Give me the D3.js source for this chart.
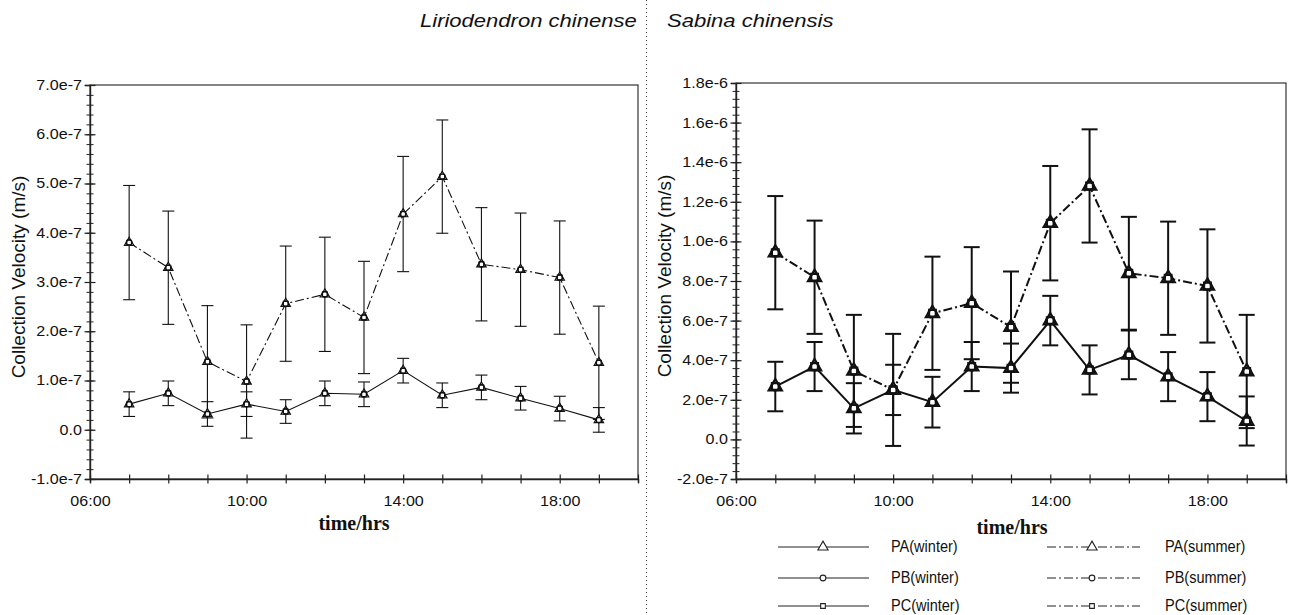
<!DOCTYPE html>
<html><head><meta charset="utf-8">
<script src="https://cdn.jsdelivr.net/npm/d3@7"></script>
<style>body{margin:0;background:#fff}svg{display:block}</style>
</head><body>
<svg id="c" width="1291" height="615"></svg>
<script>
// ---------- data ----------
const hours = [7, 8, 9, 10, 11, 12, 13, 14, 15, 16, 17, 18, 19];

const liriWinterMean = [0.52e-7, 0.74e-7, 0.32e-7, 0.52e-7, 0.37e-7, 0.74e-7, 0.72e-7, 1.20e-7, 0.70e-7, 0.86e-7, 0.64e-7, 0.43e-7, 0.20e-7];
const liriWinterErr  = [0.25e-7, 0.25e-7, 0.25e-7, 0.25e-7, 0.24e-7, 0.25e-7, 0.25e-7, 0.25e-7, 0.25e-7, 0.25e-7, 0.24e-7, 0.25e-7, 0.25e-7];
const liriSummerMean = [3.80e-7, 3.29e-7, 1.38e-7, 0.98e-7, 2.56e-7, 2.75e-7, 2.28e-7, 4.38e-7, 5.14e-7, 3.36e-7, 3.25e-7, 3.09e-7, 1.36e-7];
const liriSummerErr  = [1.16e-7, 1.15e-7, 1.14e-7, 1.15e-7, 1.17e-7, 1.16e-7, 1.14e-7, 1.17e-7, 1.15e-7, 1.15e-7, 1.15e-7, 1.15e-7, 1.15e-7];

const sabinaWinterMean = [2.67e-7, 3.68e-7, 1.57e-7, 2.50e-7, 1.88e-7, 3.68e-7, 3.60e-7, 6.00e-7, 3.51e-7, 4.27e-7, 3.17e-7, 2.16e-7, 0.93e-7];
const sabinaWinterErr  = [1.25e-7, 1.24e-7, 1.27e-7, 1.27e-7, 1.28e-7, 1.24e-7, 1.24e-7, 1.25e-7, 1.24e-7, 1.23e-7, 1.24e-7, 1.24e-7, 1.24e-7];
const sabinaSummerMean = [9.43e-7, 8.19e-7, 3.46e-7, 2.50e-7, 6.37e-7, 6.88e-7, 5.67e-7, 10.92e-7, 12.80e-7, 8.39e-7, 8.14e-7, 7.75e-7, 3.43e-7];
const sabinaSummerErr  = [2.86e-7, 2.86e-7, 2.83e-7, 2.83e-7, 2.86e-7, 2.83e-7, 2.81e-7, 2.89e-7, 2.86e-7, 2.85e-7, 2.86e-7, 2.86e-7, 2.86e-7];

const seriesNames = ["PA", "PB", "PC"];
const seasonNames = ["winter", "summer"];
const panelTitles = ["Liriodendron chinense", "Sabina chinensis"];
const yAxisTitle = "Collection Velocity (m/s)";
const xAxisTitle = "time/hrs";

const xTickHours = [6, 7, 8, 9, 10, 11, 12, 13, 14, 15, 16, 17, 18, 19, 20];
const xLabelHours = [6, 10, 14, 18];
const xTickLabels = ["06:00", "10:00", "14:00", "18:00"];

const liriYTicks = [-1e-7, 0, 1e-7, 2e-7, 3e-7, 4e-7, 5e-7, 6e-7, 7e-7];
const liriYTickLabels = ["-1.0e-7", "0.0", "1.0e-7", "2.0e-7", "3.0e-7", "4.0e-7", "5.0e-7", "6.0e-7", "7.0e-7"];
const sabinaYTicks = [-2e-7, 0, 2e-7, 4e-7, 6e-7, 8e-7, 1.0e-6, 1.2e-6, 1.4e-6, 1.6e-6, 1.8e-6];
const sabinaYTickLabels = ["-2.0e-7", "0.0", "2.0e-7", "4.0e-7", "6.0e-7", "8.0e-7", "1.0e-6", "1.2e-6", "1.4e-6", "1.6e-6", "1.8e-6"];

const legendLabels = [["PA(winter)", "PB(winter)", "PC(winter)"], ["PA(summer)", "PB(summer)", "PC(summer)"]];

// ---------- drawing ----------
const svg = d3.select("#c");
const SANS = "'Liberation Sans', Arial, sans-serif";
const SERIF = "'Liberation Serif', 'Times New Roman', serif";
const DASHDOT = "9,3,2,3";
const symbolTypes = [d3.symbolTriangle, d3.symbolCircle, d3.symbolSquare];

function addText(parent, x, y, str, o) {
  const g = parent.append("g").attr("transform", `translate(${x},${y})${o.rot ? " rotate(" + o.rot + ")" : ""} scale(${o.sx || 1},1)`);
  g.append("text").text(str)
    .attr("font-family", o.family || SANS)
    .attr("font-size", o.size)
    .attr("font-style", o.style || "normal")
    .attr("font-weight", o.weight || "normal")
    .attr("text-anchor", o.anchor || "start")
    .attr("fill", "#111");
  return g;
}

const panels = [
  { x0: 90, x1: 638, y0: 85, y1: 479, dom: [-1e-7, 7e-7], minorStep: 2e-8,
    ticks: liriYTicks, labels: liriYTickLabels,
    wMean: liriWinterMean, wErr: liriWinterErr, sMean: liriSummerMean, sErr: liriSummerErr,
    sw: 1.1, cap: 12, sym: [38, 26, 22], msw: 1.2,
    title: panelTitles[0], titleX: 420, yLabX: 25, xLabX: 354, xLabY: 530 },
  { x0: 736, x1: 1286, y0: 83, y1: 479, dom: [-2e-7, 1.8e-6], minorStep: 4e-8,
    ticks: sabinaYTicks, labels: sabinaYTickLabels,
    wMean: sabinaWinterMean, wErr: sabinaWinterErr, sMean: sabinaSummerMean, sErr: sabinaSummerErr,
    sw: 2, cap: 16, sym: [75, 50, 45], msw: 2.2,
    title: panelTitles[1], titleX: 667, yLabX: 671, xLabX: 1012, xLabY: 534 }
];

panels.forEach(p => {
  const g = svg.append("g");
  const x = d3.scaleLinear().domain([6, 20]).range([p.x0, p.x1]);
  const y = d3.scaleLinear().domain(p.dom).range([p.y1, p.y0]);

  // frame
  g.append("rect").attr("x", p.x0).attr("y", p.y0).attr("width", p.x1 - p.x0).attr("height", p.y1 - p.y0)
    .attr("fill", "none").attr("stroke", "#333").attr("stroke-width", 1.2);

  // y minor ticks
  const minor = d3.range(p.dom[0], p.dom[1] + p.minorStep / 2, p.minorStep);
  const gMin = g.append("g").attr("transform", `translate(${p.x0},0)`)
    .call(d3.axisLeft(y).tickValues(minor).tickFormat("").tickSizeOuter(0).tickSize(3.5));
  gMin.select(".domain").remove();
  gMin.selectAll(".tick line").attr("x1", -3.5).attr("x2", 3.5).attr("stroke", "#222");

  // y major axis
  const gY = g.append("g").attr("transform", `translate(${p.x0},0)`)
    .call(d3.axisLeft(y).tickValues(p.ticks).tickFormat((d, i) => p.labels[i]).tickSizeOuter(0).tickSize(5).tickPadding(2));
  gY.select(".domain").attr("stroke", "#222").attr("stroke-width", 1.4);
  gY.selectAll(".tick line").attr("x1", -5.5).attr("x2", 5.5).attr("stroke", "#222").attr("stroke-width", 1.2);
  gY.selectAll(".tick text").attr("font-family", SANS).attr("font-size", 14).attr("fill", "#111")
    .attr("transform", "scale(1.15,1)");

  // x axis
  const gX = g.append("g").attr("transform", `translate(0,${p.y1})`)
    .call(d3.axisBottom(x).tickValues(xTickHours)
      .tickFormat(d => { const i = xLabelHours.indexOf(d); return i >= 0 ? xTickLabels[i] : ""; })
      .tickSizeOuter(0).tickSize(4).tickPadding(13));
  gX.select(".domain").attr("stroke", "#222").attr("stroke-width", 1.4);
  gX.selectAll(".tick line").attr("y1", -4.5).attr("y2", 4.5).attr("stroke", "#222").attr("stroke-width", 1.2);
  gX.selectAll(".tick text").attr("font-family", SANS).attr("font-size", 14).attr("fill", "#111")
    .attr("transform", "scale(1.15,1)");

  // error bars
  const seasons = [
    { mean: p.wMean, err: p.wErr, dash: null },
    { mean: p.sMean, err: p.sErr, dash: DASHDOT }
  ];
  seasons.forEach(s => {
    const eb = g.append("g").attr("stroke", "#111").attr("stroke-width", p.sw).attr("fill", "none");
    hours.forEach((h, i) => {
      const cx = x(h), lo = y(s.mean[i] - s.err[i]), hi = y(s.mean[i] + s.err[i]);
      eb.append("line").attr("x1", cx).attr("x2", cx).attr("y1", lo).attr("y2", hi);
      eb.append("line").attr("x1", cx - p.cap / 2).attr("x2", cx + p.cap / 2).attr("y1", lo).attr("y2", lo);
      eb.append("line").attr("x1", cx - p.cap / 2).attr("x2", cx + p.cap / 2).attr("y1", hi).attr("y2", hi);
    });
  });

  // lines
  seasons.forEach(s => {
    const line = d3.line().x((d, i) => x(hours[i])).y(d => y(d));
    g.append("path").datum(s.mean).attr("d", line).attr("fill", "none")
      .attr("stroke", "#111").attr("stroke-width", p.sw)
      .attr("stroke-dasharray", s.dash);
  });

  // markers: PA (triangle), PB (circle), PC (square) for each season
  seasons.forEach(s => {
    seriesNames.forEach((name, k) => {
      g.append("g").selectAll("path").data(s.mean).join("path")
        .attr("transform", (d, i) => `translate(${x(hours[i])},${y(d)})`)
        .attr("d", d3.symbol().type(symbolTypes[k]).size(p.sym[k]))
        .attr("fill", k === 0 ? "#fff" : "none").attr("stroke", "#111").attr("stroke-width", p.msw);
    });
  });

  // titles
  addText(svg, p.titleX, 27, p.title, { size: 19, style: "italic", sx: 1.16 });
  addText(svg, p.yLabX, (p.y0 + p.y1) / 2 - 5, yAxisTitle, { size: 19, rot: -90, anchor: "middle" });
  addText(svg, p.xLabX, p.xLabY, xAxisTitle, { size: 20, family: SERIF, weight: "bold", anchor: "middle" });
});

// divider
svg.append("line").attr("x1", 646.5).attr("x2", 646.5).attr("y1", 0).attr("y2", 615)
  .attr("stroke", "#444").attr("stroke-width", 1).attr("stroke-dasharray", "1,3");

// legend
const legendRows = [547, 578, 606];
const legendCols = [
  { lx0: 778, lx1: 869, mx: 823, tx: 891, dash: null },
  { lx0: 1047, lx1: 1140, mx: 1092, tx: 1165, dash: DASHDOT }
];
const legendSym = [45, 26, 22];
legendCols.forEach((c, ci) => {
  legendRows.forEach((ry, ri) => {
    svg.append("line").attr("x1", c.lx0).attr("x2", c.lx1).attr("y1", ry).attr("y2", ry)
      .attr("stroke", "#222").attr("stroke-width", 1.1).attr("stroke-dasharray", c.dash);
    svg.append("path").attr("transform", `translate(${c.mx},${ry})`)
      .attr("d", d3.symbol().type(symbolTypes[ri]).size(legendSym[ri]))
      .attr("fill", "#fff").attr("stroke", "#222").attr("stroke-width", 1.1);
    addText(svg, c.tx, ry + 5, legendLabels[ci][ri], { size: 16.5, sx: 0.88 });
  });
});
</script>
</body></html>
